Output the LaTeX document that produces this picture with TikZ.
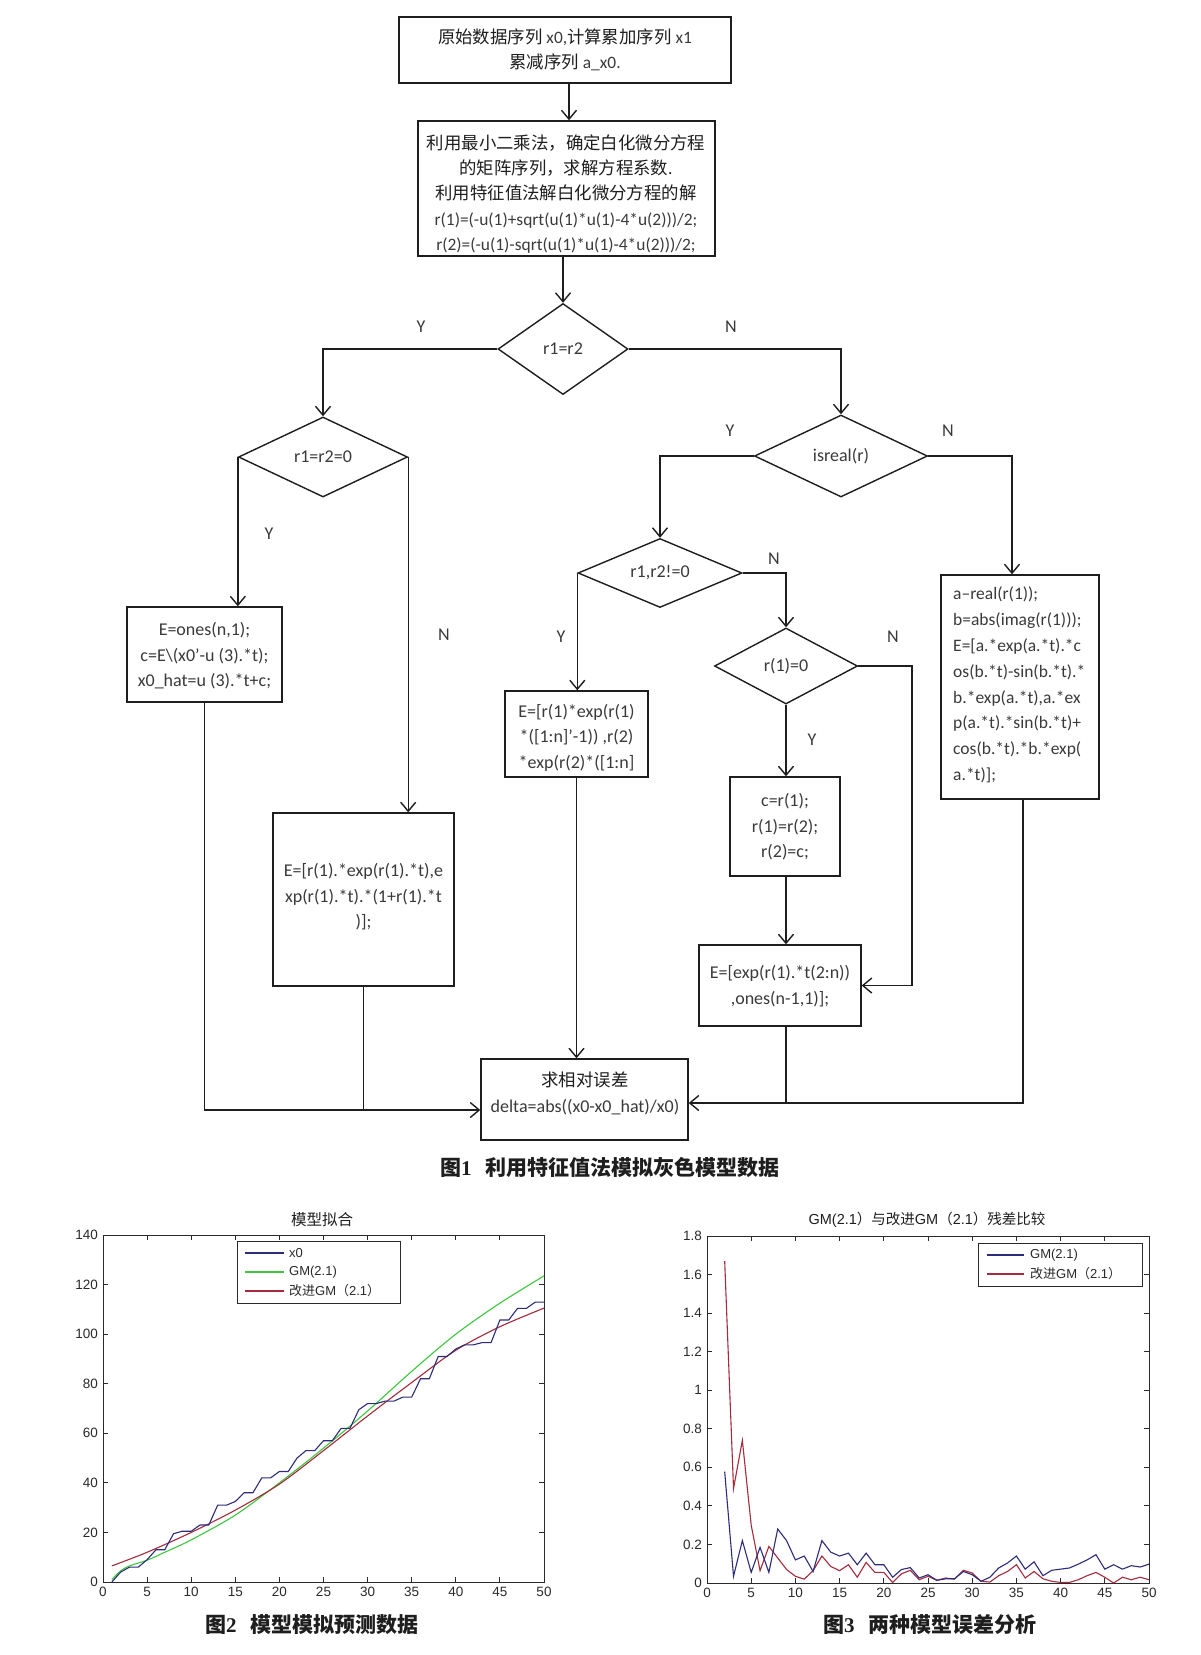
\documentclass[tikz,border=0pt]{standalone}
\usepackage{fontspec}
\setmainfont{Carlito}
\newfontfamily\cjk{Noto Sans CJK SC}
\newfontfamily\arl{Liberation Sans}
\newfontfamily\tms{Liberation Serif}
\usetikzlibrary{arrows.meta,shapes.geometric}
\definecolor{ink}{HTML}{1E1E1E}
\definecolor{codec}{HTML}{3A3A3A}
\definecolor{axc}{HTML}{2A2A2A}
\definecolor{mblue}{HTML}{2C2C7A}
\definecolor{mgreen}{HTML}{3CC83C}
\definecolor{mred}{HTML}{A52A3C}
\newcommand\codesz{\fontsize{18}{25.5}\selectfont}
\newcommand\cjksz{\fontsize{17.4}{25.4}\selectfont}
\newcommand\ticksz{\arl\fontsize{13.5}{16}\selectfont}
\newcommand\legsz{\arl\fontsize{13}{16}\selectfont}
\newcommand\capsz{\fontsize{21}{24}\selectfont}
\begin{document}
\begin{tikzpicture}[x=1pt,y=-1pt,
  box/.style={draw=ink, line width=1.4pt, rectangle, inner sep=0pt},
  dia/.style={draw=ink, line width=1.4pt, diamond, inner sep=0pt, aspect=1.4, font=\codesz, text=codec},
  txt/.style={inner sep=0pt, align=center, font=\codesz, text=codec},
  cjktxt/.style={inner sep=0pt, align=center, font=\cjksz, text=ink},
  conn/.style={draw=ink, line width=1.4pt},
  arr/.style={conn, -{Straight Barb[length=9pt,width=15pt]}},
  yn/.style={inner sep=0pt, font=\codesz, text=codec},
  axl/.style={draw=axc, line width=1pt},
  ticklab/.style={inner sep=0pt, font=\ticksz, text=axc},
  leglab/.style={inner sep=0pt, font=\legsz, text=axc, anchor=west},
  capt/.style={inner sep=0pt, anchor=west, text=ink, font=\capsz}
]
\fill[white] (0,0) rectangle (1200,1655);
\useasboundingbox (0,0) rectangle (1200,1655);

% ---------------- flowchart ----------------
\node[box, minimum width=332pt, minimum height=66pt] (b1) at (565,50) {};
\node[cjktxt] (t1) at (565,50) {{\cjk 原始数据序列} \textcolor{codec}{x0,}{\cjk 计算累加序列} \textcolor{codec}{x1}\\{\cjk 累减序列} \textcolor{codec}{a\_x0.}};

\node[box, minimum width=297pt, minimum height=135pt] (b2) at (566.5,188.5) {};
\node[cjktxt] (t2) at (566,194) {{\cjk 利用最小二乘法，确定白化微分方程}\\{\cjk 的矩阵序列，求解方程系数}.\\{\cjk 利用特征值法解白化微分方程的解}\\\textcolor{codec}{r(1)=(-u(1)+sqrt(u(1)*u(1)-4*u(2)))/2;}\\\textcolor{codec}{r(2)=(-u(1)-sqrt(u(1)*u(1)-4*u(2)))/2;}};

\node[dia, minimum width=130pt, minimum height=91pt] (d1) at (563,349) {r1=r2};
\node[dia, minimum width=169pt, minimum height=80pt] (d2) at (323,457) {r1=r2=0};
\node[dia, minimum width=173pt, minimum height=82pt] (d3) at (841,456) {isreal(r)};
\node[dia, minimum width=164pt, minimum height=69pt] (d4) at (660,573) {r1,r2!=0};
\node[dia, minimum width=143pt, minimum height=76pt] (d5) at (786,666) {r(1)=0};

\node[box, minimum width=155pt, minimum height=95pt] (bones) at (204.5,654.5) {};
\node[txt] (tones) at (204.5,656) {E=ones(n,1);\\c=E\textbackslash(x0'-u (3).*t);\\x0\_hat=u (3).*t+c;};

\node[box, minimum width=181pt, minimum height=173pt] (brep) at (363.5,899.5) {};
\node[txt] (trep) at (363.5,897) {E=[r(1).*exp(r(1).*t),e\\xp(r(1).*t).*(1+r(1).*t\\)];};

\node[box, minimum width=143pt, minimum height=86pt] (breal) at (576.5,734) {};
\node[txt] (treal) at (576.5,737.5) {E=[r(1)*exp(r(1)\\{}*([1:n]'-1)) ,r(2)\\{}*exp(r(2)*([1:n]};

\node[box, minimum width=110pt, minimum height=99pt] (bswap) at (785,826.5) {};
\node[txt] (tswap) at (785,827) {c=r(1);\\r(1)=r(2);\\r(2)=c;};

\node[box, minimum width=162pt, minimum height=81pt] (bexp) at (780,985.5) {};
\node[txt] (texp) at (780,986) {E=[exp(r(1).*t(2:n))\\,ones(n-1,1)];};

\node[box, minimum width=158pt, minimum height=224pt] (bcx) at (1020,687) {};
\node[txt, align=left, anchor=west, font=\fontsize{17.5}{25.8}\selectfont] (tcx) at (953,685) {a--real(r(1));\\b=abs(imag(r(1)));\\E=[a.*exp(a.*t).*c\\os(b.*t)-sin(b.*t).*\\b.*exp(a.*t),a.*ex\\p(a.*t).*sin(b.*t)+\\cos(b.*t).*b.*exp(\\a.*t)];};

\node[box, minimum width=207pt, minimum height=81pt] (berr) at (584.5,1099.5) {};
\node[cjktxt] (terr1) at (585,1080) {\cjk 求相对误差};
\node[txt] (terr2) at (585,1107) {delta=abs((x0-x0\_hat)/x0)};

% connectors
\draw[arr] ([xshift=4pt]b1.south) -- ([xshift=4pt]b1.south |- b2.north);
\draw[arr] (d1.north |- b2.south) -- (d1.north);
\draw[arr] (d1.west) -| (d2.north);
\draw[arr] (d1.east) -| (d3.north);
\draw[arr] (d2.west) -- (d2.west |- bones.north);
\draw[arr] (d2.east) -- (d2.east |- brep.north);
\draw[arr] (d3.west) -| (d4.north);
\draw[arr] (d3.east) -| ([xshift=-8pt]bcx.north);
\draw[arr] (d4.west) -- (d4.west |- breal.north);
\draw[arr] (d4.east) -| (d5.north);
\draw[arr] (d5.south) -- (d5.south |- bswap.north);
\coordinate (k5) at (912,666);
\draw[arr] (d5.east) -- (k5) |- (bexp.east);
\draw[arr] (d5.south |- bswap.south) -- (d5.south |- bexp.north);
\draw[arr] (breal.south) -- (breal.south |- berr.north);
\coordinate (jl) at (berr.west |- 0,1110);
\draw[arr] (bones.south) |- (jl);
\draw[conn] (brep.south) -- (brep.south |- jl);
\coordinate (jr) at (berr.east |- 0,1103);
\draw[arr] ([xshift=3pt]bcx.south) |- (jr);
\draw[conn] (d5.south |- bexp.south) -- (d5.south |- jr);

% Y / N labels
\node[yn] (y1) at (421,327) {Y};
\node[yn] (n1) at (731,327) {N};
\node[yn] (y2) at (269,534) {Y};
\node[yn] (n2) at (444,635) {N};
\node[yn] (y3) at (730,431) {Y};
\node[yn] (n3) at (948,431) {N};
\node[yn] (y4) at (561,637) {Y};
\node[yn] (n4) at (774,559) {N};
\node[yn] (y5) at (812,740) {Y};
\node[yn] (n5) at (893,637) {N};

\node[capt] (cap1) at (440,1167) {{\cjk\bfseries 图}{\tms\bfseries 1}\hspace{14pt}{\cjk\bfseries 利用特征值法模拟灰色模型数据}};

% ---------------- left chart ----------------
\node[inner sep=0pt, font=\cjk\fontsize{15.5}{18}\selectfont, text=ink] (ttl1) at (322,1220) {模型拟合};
\begin{scope}[shift={(103,1582)}, x=8.82pt, y=2.4786pt]
  \draw[axl] (0,0) rectangle (50,140);
  \foreach \t [count=\i] in {0,5,...,50}{
    \draw[axl] (\t,0) -- (\t,2.0) (\t,140) -- (\t,138);
    \node[ticklab, anchor=north] (lax\i) at ([yshift=-5pt]\t,0) {\t};
  }
  \foreach \v [count=\i] in {0,20,...,140}{
    \draw[axl] (0,\v) -- (0.57,\v) (50,\v) -- (49.43,\v);
    \node[ticklab, anchor=east] (lay\i) at ([xshift=-5pt]0,\v) {\v};
  }
  \draw[mgreen, line width=1.1pt] plot[smooth] coordinates {(1,1)(2,4.5)(3,6.5)(5,8.8)(7,12)(10,17)(15,27)(20,40)(25,54)(30,69)(35,85)(40,100)(45,112.5)(50,123.5)};
  \draw[mred, line width=1.1pt] plot[smooth] coordinates {(1,6.5)(5,12)(10,20)(15,29)(20,39.5)(25,53)(30,67)(35,80.5)(40,93.5)(45,103)(50,110.5)};
  \draw[mblue, line width=1.1pt] plot coordinates {(1,0)(2,4)(3,6)(4,6)(5,9)(6,13)(7,13)(8,19.5)(9,20.5)(10,20.5)(11,23)(12,23)(13,31)(14,31)(15,32.5)(16,36)(17,36)(18,42)(19,42)(20,44.6)(21,44.6)(22,50)(23,53)(24,53)(25,57)(26,57)(27,62)(28,62)(29,69.5)(30,72)(31,72)(32,73)(33,73)(34,74.6)(35,74.6)(36,82)(37,82)(38,91)(39,91)(40,94)(41,95.7)(42,95.7)(43,96.6)(44,96.6)(45,105.7)(46,105.7)(47,110.4)(48,110.4)(49,112.9)(50,112.9)};
\end{scope}
\node[draw=axc, line width=1pt, fill=white, inner sep=0pt, minimum width=163pt, minimum height=62pt] (leg1) at (318.5,1272) {};
\draw[mblue, line width=1.1pt] (245,1253) -- (284,1253);
\draw[mgreen, line width=1.1pt] (245,1272) -- (284,1272);
\draw[mred, line width=1.1pt] (245,1291) -- (284,1291);
\node[leglab] (leg1a) at (289,1253) {x0};
\node[leglab] (leg1b) at (289,1272) {GM(2.1)};
\node[leglab] (leg1c) at (289,1291) {{\cjk 改进}GM{\cjk （}2.1{\cjk ）}};
\node[capt] (cap2) at (205,1625) {{\cjk\bfseries 图}{\tms\bfseries 2}\hspace{14pt}{\cjk\bfseries 模型模拟预测数据}};

% ---------------- right chart ----------------
\node[inner sep=0pt, font=\arl\fontsize{14.5}{18}\selectfont, text=ink] (ttl2) at (927,1220) {GM(2.1{\cjk ）与改进}GM{\cjk （}2.1{\cjk ）残差比较}};
\begin{scope}[shift={(707,1583)}, x=8.84pt, y=192.78pt]
  \draw[axl] (0,0) rectangle (50,1.8);
  \foreach \t [count=\i] in {0,5,...,50}{
    \draw[axl] (\t,0) -- (\t,0.026) (\t,1.8) -- (\t,1.774);
    \node[ticklab, anchor=north] (rax\i) at ([yshift=-5pt]\t,0) {\t};
  }
  \foreach \v/\s [count=\i] in {0/0,0.2/0.2,0.4/0.4,0.6/0.6,0.8/0.8,1/1,1.2/1.2,1.4/1.4,1.6/1.6,1.8/1.8}{
    \draw[axl] (0,\v) -- (0.57,\v) (50,\v) -- (49.43,\v);
    \node[ticklab, anchor=east] (ray\i) at ([xshift=-5pt]0,\v) {\s};
  }
  \draw[mred, line width=1.1pt] plot coordinates {(2,1.67)(3,0.49)(4,0.74)(5,0.30)(6,0.064)(7,0.19)(8,0.13)(9,0.07)(10,0.035)(11,0.02)(12,0.064)(13,0.14)(14,0.086)(15,0.064)(16,0.095)(17,0.03)(18,0.107)(19,0.055)(20,0.055)(21,0.003)(22,0.048)(23,0.066)(24,0.017)(25,0.035)(26,0.014)(27,0.026)(28,0.02)(29,0.066)(30,0.052)(31,0.009)(32,0.005)(33,0.038)(34,0.06)(35,0.095)(36,0.026)(37,0.06)(38,0.022)(39,0.009)(40,0.003)(41,0.003)(42,0.017)(43,0.038)(44,0.055)(45,0.03)(46,0.0)(47,0.03)(48,0.017)(49,0.03)(50,0.017)};
  \draw[mblue, line width=1.1pt] plot coordinates {(2,0.578)(3,0.035)(4,0.22)(5,0.055)(6,0.185)(7,0.055)(8,0.28)(9,0.22)(10,0.12)(11,0.14)(12,0.06)(13,0.22)(14,0.16)(15,0.14)(16,0.155)(17,0.095)(18,0.155)(19,0.095)(20,0.095)(21,0.03)(22,0.07)(23,0.08)(24,0.026)(25,0.043)(26,0.014)(27,0.022)(28,0.022)(29,0.06)(30,0.043)(31,0.009)(32,0.03)(33,0.078)(34,0.104)(35,0.14)(36,0.072)(37,0.11)(38,0.038)(39,0.066)(40,0.072)(41,0.078)(42,0.098)(43,0.12)(44,0.147)(45,0.072)(46,0.095)(47,0.072)(48,0.09)(49,0.083)(50,0.098)};
\end{scope}
\node[draw=axc, line width=1pt, fill=white, inner sep=0pt, minimum width=164pt, minimum height=43pt] (leg2) at (1060,1264.5) {};
\draw[mblue, line width=1.1pt] (987,1255) -- (1024,1255);
\draw[mred, line width=1.1pt] (987,1274) -- (1024,1274);
\node[leglab] (leg2a) at (1030,1255) {GM(2.1)};
\node[leglab] (leg2b) at (1030,1274) {{\cjk 改进}GM{\cjk （}2.1{\cjk ）}};
\node[capt] (cap3) at (823,1625) {{\cjk\bfseries 图}{\tms\bfseries 3}\hspace{14pt}{\cjk\bfseries 两种模型误差分析}};
\end{tikzpicture}
\end{document}
